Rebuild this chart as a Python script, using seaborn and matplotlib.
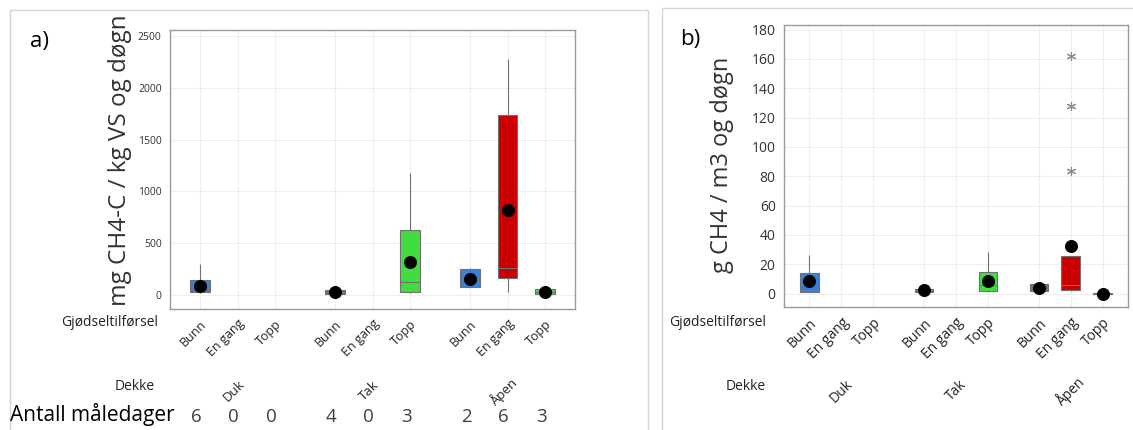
import numpy as np
import pandas as pd
import matplotlib
matplotlib.use("Agg")
import matplotlib.pyplot as plt
import matplotlib.transforms as mtransforms
from matplotlib.patches import Rectangle
import seaborn as sns

# ---------------- data ----------------
dekke = ["Duk", "Tak", "Åpen"]
gjodsel = ["Bunn", "En gang", "Topp"]
antall = [6, 0, 0, 4, 0, 3, 2, 6, 3]

# boxes that exist (Dekke, Gjødseltilførsel)
box_dekke = ["Duk", "Tak", "Tak", "Åpen", "Åpen", "Åpen"]
box_gjodsel = ["Bunn", "Bunn", "Topp", "Bunn", "En gang", "Topp"]

# a) mg CH4-C / kg VS og døgn  (observations per box)
obs_a = [
    [20, 26, 45, 148, 300],
    [13, 13, 32, 51, 51],
    [20, 26, 123, 629, 1177],
    [74, 81, 145, 248, 258],
    [32, 168, 265, 1736, 2274],
    [8, 10, 26, 58, 60],
]
mean_a = [90, 29, 316, 158, 823, 29]

# b) g CH4 / m3 og døgn
obs_b = [
    [0.8, 1.1, 4.5, 14.1, 26.5],
    [0.8, 0.9, 2.0, 3.2, 3.4],
    [1.4, 1.6, 6.1, 15.0, 28.1],
    [1.8, 2.0, 4.0, 6.8, 7.0],
    [2.0, 2.3, 2.5, 2.7, 4.0, 5.0, 6.1, 10.0, 20.0, 25.4, 83.9, 127.6, 162.0],
    [-0.3, -0.2, 0.1, 0.3, 0.4],
]
mean_b = [8.4, 2.3, 8.4, 3.9, 32.2, 0.0]

colors = {"Bunn": "#3b7fd9", "En gang": "#cc0000", "Topp": "#40dc40"}

# ---------------- layout helpers ----------------
GROUP_STEP = 3.6


def pos_of(d, g):
    return dekke.index(d) * GROUP_STEP + gjodsel.index(g)


tick_pos = [pos_of(d, g) for d in dekke for g in gjodsel]
tick_lab = [g for d in dekke for g in gjodsel]


def long_df(obs):
    rows = []
    for d, g, vals in zip(box_dekke, box_gjodsel, obs):
        for v in vals:
            rows.append({"pos": pos_of(d, g), "Gjødseltilførsel": g, "Dekke": d, "val": v})
    return pd.DataFrame(rows)


sns.set_theme(style="white")
plt.rcParams["font.family"] = ["Open Sans", "DejaVu Sans"]

W, H = 1133, 430
fig = plt.figure(figsize=(W / 100, H / 100), dpi=100)


def fx(px):
    return px / W


def fy(py):
    return 1 - py / H


# panel frames
fig.patches.append(Rectangle((fx(10), fy(440)), fx(648) - fx(10), fy(10) - fy(440),
                             transform=fig.transFigure, fill=False, edgecolor="#d6d6d6", lw=1))
fig.patches.append(Rectangle((fx(662), fy(440)), fx(1145) - fx(662), fy(8) - fy(440),
                             transform=fig.transFigure, fill=False, edgecolor="#d6d6d6", lw=1))


def draw_panel(ax, obs, means, width, ylim, yticks, tick_fs, xtick_fs):
    df = long_df(obs)
    for p in tick_pos:
        ax.axvline(p, color="#efefef", lw=0.8, zorder=0)
    for t in yticks:
        ax.axhline(t, color="#efefef", lw=0.8, zorder=0)
    sns.boxplot(data=df, x="pos", y="val", hue="Gjødseltilførsel", palette=colors,
                native_scale=True, dodge=False, width=width, linecolor="#707070",
                linewidth=0.8, showcaps=False, legend=False, saturation=1,
                whis=1.5,
                flierprops=dict(marker=(6, 2, 0), markeredgecolor="#8a8a8a",
                                markerfacecolor="none", markersize=6.5, markeredgewidth=0.8),
                ax=ax, zorder=2)
    mpos = [pos_of(d, g) for d, g in zip(box_dekke, box_gjodsel)]
    sns.scatterplot(x=mpos, y=means, color="black", s=75, edgecolor="black",
                    zorder=5, legend=False, ax=ax)
    ax.set_xlim(tick_pos[0] - 0.8, tick_pos[-1] + 0.8)
    ax.set_ylim(*ylim)
    ax.set_yticks(yticks)
    ax.set_yticklabels([str(t) for t in yticks], fontsize=tick_fs, color="#333333")
    ax.set_xticks(tick_pos)
    ax.set_xticklabels(tick_lab, rotation=45, ha="right", rotation_mode="anchor",
                       fontsize=xtick_fs, color="#222222")
    ax.tick_params(axis="both", length=3, color="#999999", direction="out", pad=3)
    ax.set_xlabel("")
    ax.set_ylabel("")
    for s in ax.spines.values():
        s.set_edgecolor("#9a9a9a")
        s.set_linewidth(1)


# ---------------- panel a ----------------
axa = fig.add_axes([fx(170), fy(309), fx(575) - fx(170), fy(30) - fy(309)])
draw_panel(axa, obs_a, mean_a, 0.52, (-135, 2558), [0, 500, 1000, 1500, 2000, 2500], 7.5, 9)

# ---------------- panel b ----------------
axb = fig.add_axes([fx(784), fy(307), fx(1128) - fx(784), fy(25) - fy(307)])
draw_panel(axb, obs_b, mean_b, 0.58, (-9.1, 183.1), list(range(0, 181, 20)), 10, 10)

# y labels
fig.text(fx(120), fy(160), "mg CH4-C / kg VS og døgn", rotation=90, ha="center", va="center",
         fontsize=17.5, color="#333333")
fig.text(fx(722), fy(165), "g CH4 / m3 og døgn", rotation=90, ha="center", va="center",
         fontsize=17, color="#333333")

# panel letters
fig.text(fx(30), fy(42), "a)", fontsize=16, ha="left", va="center", color="black")
fig.text(fx(680), fy(40), "b)", fontsize=16, ha="left", va="center", color="black")

# row labels
fig.text(fx(158), fy(323), "Gjødseltilførsel", ha="right", va="center", fontsize=10, color="#222222")
fig.text(fx(155), fy(386), "Dekke", ha="right", va="center", fontsize=10, color="#222222")
fig.text(fx(766), fy(322), "Gjødseltilførsel", ha="right", va="center", fontsize=10, color="#222222")
fig.text(fx(766), fy(386), "Dekke", ha="right", va="center", fontsize=10, color="#222222")

# Dekke group labels
for ax, fs, dx in ((axa, 9.5, -0.1), (axb, 10, 0.0)):
    tr = mtransforms.blended_transform_factory(ax.transData, fig.transFigure)
    for i, d in enumerate(dekke):
        ax.text(i * GROUP_STEP + 1 + dx, fy(391), d, rotation=45, ha="center", va="center",
                fontsize=fs, color="#222222", transform=tr)

# Antall måledager
fig.text(fx(10), fy(415), "Antall måledager", ha="left", va="center", fontsize=15, color="black")
tra = mtransforms.blended_transform_factory(axa.transData, fig.transFigure)
for p, n in zip(tick_pos, antall):
    axa.text(p - 0.1, fy(417), str(n), ha="center", va="center", fontsize=13.5,
             color="#404040", transform=tra)

fig.savefig("out.png", dpi=100)
